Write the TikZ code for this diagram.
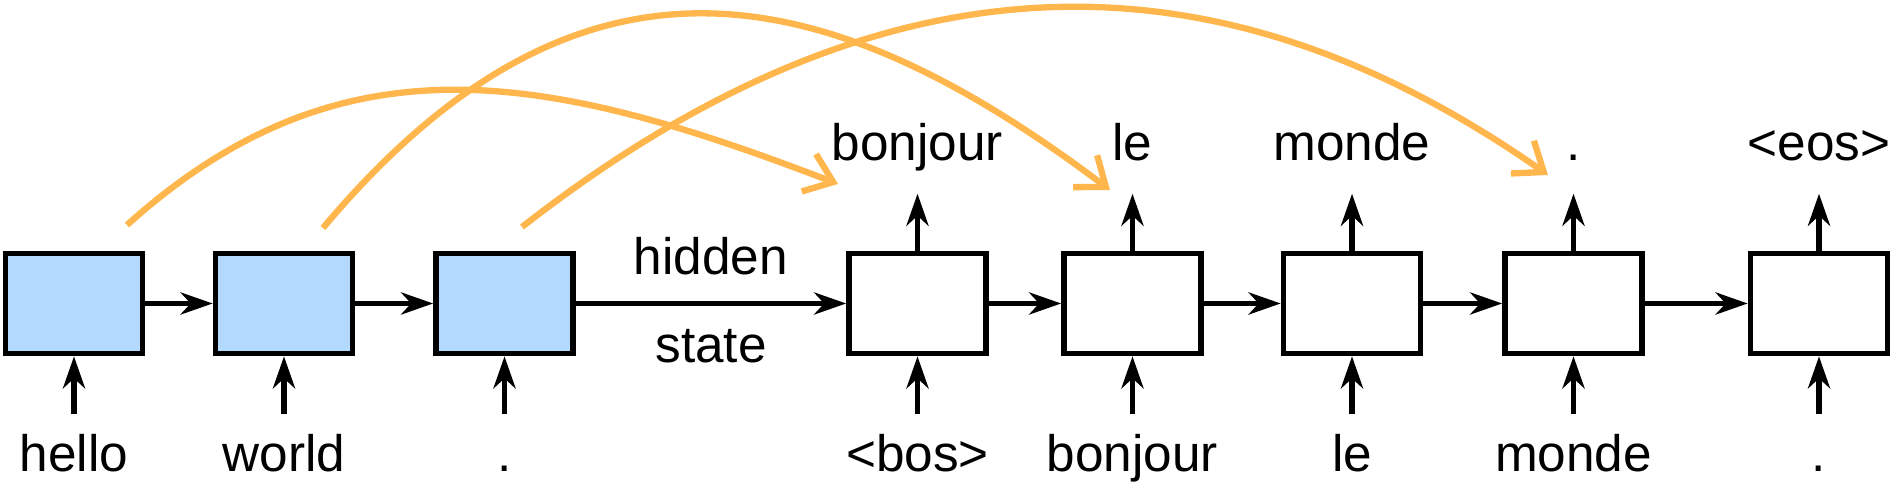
\documentclass[tikz,border=0pt]{standalone}
\usepackage{fontspec}
\setmainfont{Liberation Sans}
\usetikzlibrary{arrows.meta}
\definecolor{cellblue}{RGB}{179,217,255}
\definecolor{attnorange}{RGB}{255,183,77}
\tikzset{
  cell/.style={draw,line width=1.6pt,minimum width=1.37cm,minimum height=1.0cm,inner sep=0pt},
  word/.style={anchor=base,inner sep=0pt,text height=0.37cm,text depth=0.1cm,
    font=\fontsize{14.6}{17}\selectfont},
  flow/.style={line width=1.6pt,-{Stealth[length=0.32cm,width=0.22cm,inset=0.1cm]}},
  attn/.style={attnorange,line width=1.8pt,-{Straight Barb[length=0.26cm,width=0.4cm]}}
}
\begin{document}
\begin{tikzpicture}
      \useasboundingbox (0,0) rectangle (18.93,4.86);
      \foreach \name/\x/\txt in {e1/0.74/hello,e2/2.84/world,e3/5.045/.}
      {
        \node [cell,fill=cellblue] (\name) at (\x,1.825) {};
        \node [word] (in-\name) at (\x,0.14) {\txt};
      }
      \foreach \name/\x/\txt/\res in {d1/9.175/<bos>/bonjour,d2/11.325/bonjour/le,
          d3/13.52/le/monde,d4/15.735/monde/.,d5/18.19/./<eos>}
      {
        \node [cell,fill=white] (\name) at (\x,1.825) {};
        \node [word] (in-\name) at (\x,0.14) {\txt};
        \node [word] (out-\name) at (\x,3.25) {\res};
        \draw [flow] (\name.north) to ([yshift=-0.22cm]out-\name.south);
      }
      \foreach \name in {e1,e2,e3,d1,d2,d3,d4,d5}
      \draw [flow] ([yshift=0.2cm]in-\name.north) to (\name.south);
      \foreach \a/\b in {e1/e2,e2/e3,e3/d1,d1/d2,d2/d3,d3/d4,d4/d5}
      \draw [flow] (\a.east) to (\b.west);
      \node [word] (hid) at (7.11,2.11) {hidden};
      \node [word] (st) at (7.11,1.23) {state};
      \coordinate (src1) at (1.27,2.61);
      \coordinate (src2) at (3.23,2.58);
      \coordinate (src3) at (5.22,2.59);
      \coordinate (dst1) at (8.38,3.02);
      \coordinate (dst2) at (11.10,2.96);
      \coordinate (dst3) at (15.48,3.11);
      \draw [attn] (src1) .. controls +(42:2.92) and +(159:3.06) .. (dst1);
      \draw [attn] (src2) .. controls +(50:4.0) and +(143:3.55) .. (dst2);
      \draw [attn] (src3) .. controls +(38:5.09) and +(145:3.54) .. (dst3);
    \end{tikzpicture}
\end{document}
